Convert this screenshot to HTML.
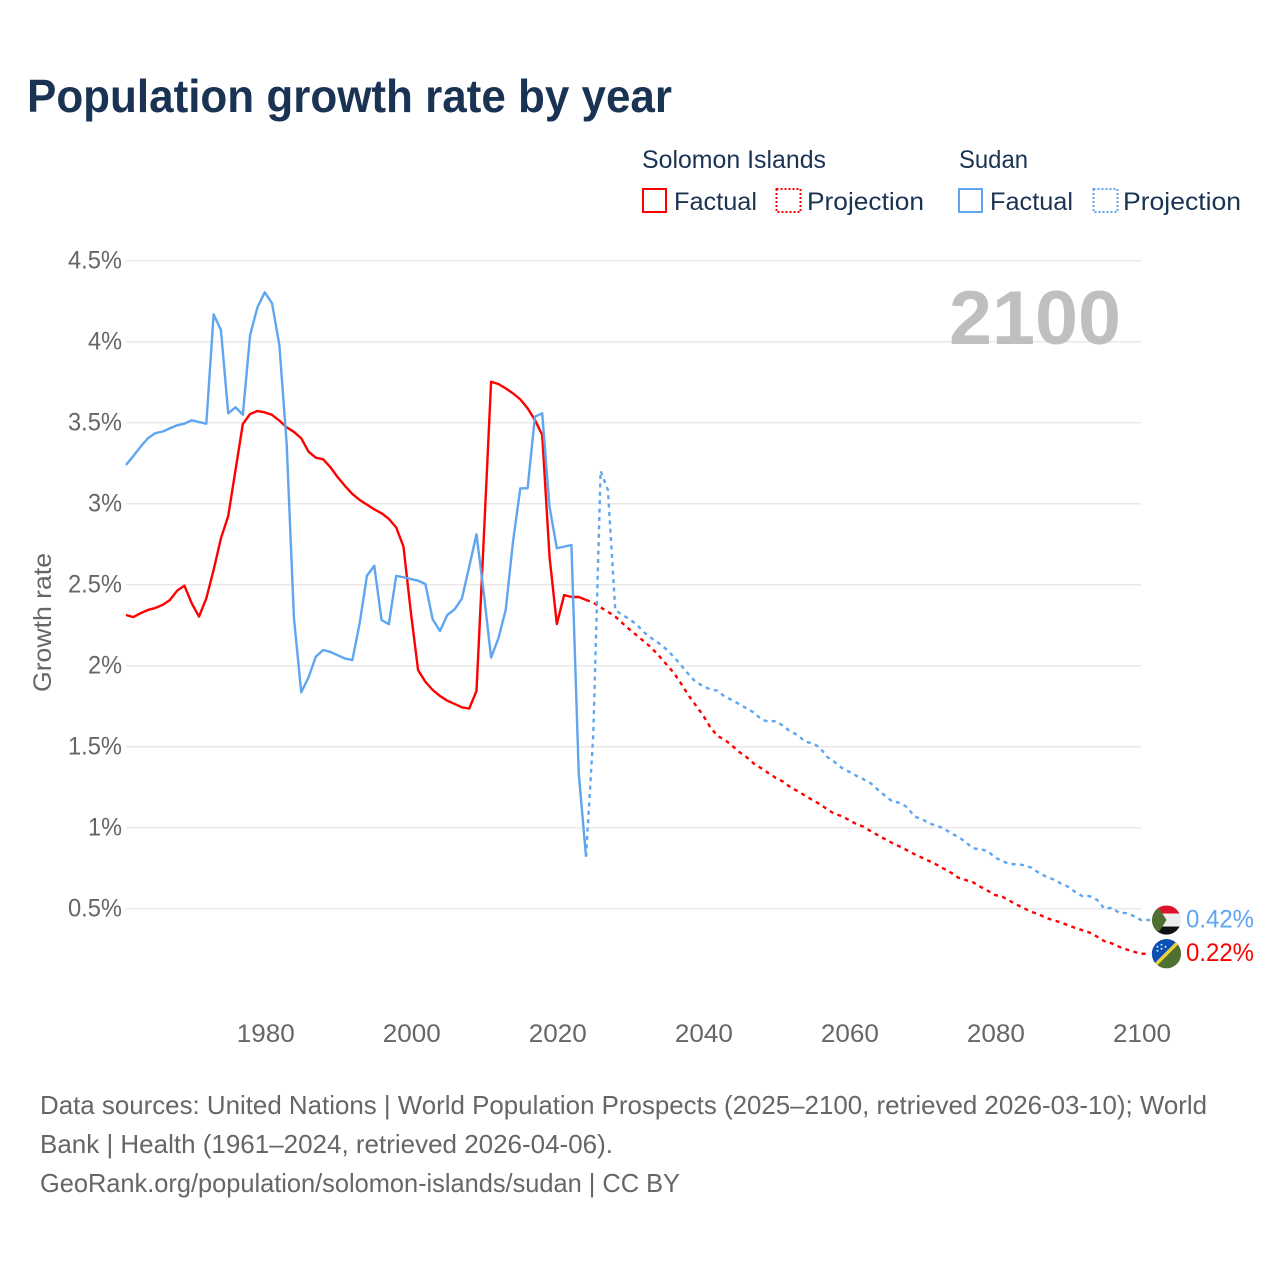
<!DOCTYPE html>
<html lang="en">
<head>
<meta charset="utf-8">
<title>Population growth rate by year</title>
<style>
html,body{margin:0;padding:0;background:#fff;}
svg{display:block;font-family:"Liberation Sans",Arial,sans-serif;}
</style>
</head>
<body>
<svg id="chart" xmlns="http://www.w3.org/2000/svg" width="1280" height="1280" viewBox="0 0 1280 1280">
  <defs>
    <clipPath id="clip-sudan"><circle cx="0" cy="0" r="14.6"/></clipPath>
    <clipPath id="clip-solomon"><circle cx="0" cy="0" r="14.6"/></clipPath>
  </defs>
  <rect x="0" y="0" width="1280" height="1280" fill="#ffffff"/>

  <text x="27" y="112" font-size="46" font-weight="700" fill="#1a3353" textLength="645" lengthAdjust="spacingAndGlyphs">Population growth rate by year</text>

  <g font-size="25" fill="#1a3353">
    <text x="642" y="168" textLength="184" lengthAdjust="spacingAndGlyphs">Solomon Islands</text>
    <text x="959" y="168" textLength="69" lengthAdjust="spacingAndGlyphs">Sudan</text>
    <rect x="643" y="189" width="23" height="23" fill="none" stroke="#ff0000" stroke-width="2"/>
    <text x="674" y="210" textLength="83" lengthAdjust="spacingAndGlyphs">Factual</text>
    <rect x="776.5" y="189" width="24" height="23" fill="none" stroke="#ff0000" stroke-width="2" stroke-dasharray="2 2"/>
    <text x="807" y="210" textLength="117" lengthAdjust="spacingAndGlyphs">Projection</text>
    <rect x="959" y="189" width="23" height="23" fill="none" stroke="#5ea6ef" stroke-width="2"/>
    <text x="990" y="210" textLength="83" lengthAdjust="spacingAndGlyphs">Factual</text>
    <rect x="1093.5" y="189" width="24" height="23" fill="none" stroke="#5ea6ef" stroke-width="2" stroke-dasharray="2 2"/>
    <text x="1123" y="210" textLength="118" lengthAdjust="spacingAndGlyphs">Projection</text>
  </g>

  <g id="grid-layer"></g>
  <g id="y-tick-layer"></g>
  <g id="x-tick-layer"></g>

  <text x="0" y="0" transform="translate(51 692) rotate(-90)" font-size="25" fill="#666666" textLength="139" lengthAdjust="spacingAndGlyphs">Growth rate</text>

  <text x="949" y="344" font-size="76" font-weight="700" fill="#bfbfbf" textLength="172" lengthAdjust="spacingAndGlyphs">2100</text>

  <g id="series-layer"></g>

  <g id="flag-sudan">
    <g clip-path="url(#clip-sudan)">
      <rect x="-15" y="-15" width="30" height="8.5" fill="#d9142b"/>
      <rect x="-15" y="-6.5" width="30" height="13" fill="#eeeeee"/>
      <rect x="-15" y="6.5" width="30" height="8.5" fill="#111111"/>
      <polygon points="-15,-11 -15,11 -7,11 0,0 -7,-11" fill="#4f7030"/>
    </g>
  </g>
  <g id="flag-solomon">
    <g clip-path="url(#clip-solomon)">
      <rect x="-15" y="-15" width="30" height="30" fill="#4f7030"/>
      <polygon points="-15,-15 15,-15 -15,15" fill="#0a50b4"/>
      <line x1="-15" y1="15" x2="15" y2="-15" stroke="#f0d040" stroke-width="3.4"/>
      <g fill="#dfe8f5">
        <circle cx="-9" cy="-7" r="1"/>
        <circle cx="-5" cy="-9" r="1"/>
        <circle cx="-1" cy="-7" r="1"/>
        <circle cx="-9" cy="-3" r="1"/>
        <circle cx="-5" cy="-5" r="1"/>
      </g>
    </g>
  </g>
  <text id="value-sudan" x="1186" font-size="25" fill="#5ea6ef" textLength="68" lengthAdjust="spacingAndGlyphs"></text>
  <text id="value-solomon" x="1186" font-size="25" fill="#ff0000" textLength="68" lengthAdjust="spacingAndGlyphs"></text>

  <g font-size="26" fill="#666666">
    <text x="40" y="1114" textLength="1167" lengthAdjust="spacingAndGlyphs">Data sources: United Nations | World Population Prospects (2025–2100, retrieved 2026-03-10); World</text>
    <text x="40" y="1153" textLength="573" lengthAdjust="spacingAndGlyphs">Bank | Health (1961–2024, retrieved 2026-04-06).</text>
    <text x="40" y="1192" textLength="640" lengthAdjust="spacingAndGlyphs">GeoRank.org/population/solomon-islands/sudan | CC BY</text>
  </g>
</svg>

<script>
const firstFactualYear = 1961;
const firstProjectionYear = 2025;

const yTickValues = [0.5, 1, 1.5, 2, 2.5, 3, 3.5, 4, 4.5];
const yTickLabels = ['0.5%', '1%', '1.5%', '2%', '2.5%', '3%', '3.5%', '4%', '4.5%'];
const xTickYears = [1980, 2000, 2020, 2040, 2060, 2080, 2100];

const solomonFactual = [
  2.313, 2.300, 2.324, 2.344, 2.356, 2.375, 2.405, 2.463, 2.494, 2.385,
  2.303, 2.416, 2.591, 2.786, 2.924, 3.208, 3.492, 3.554, 3.572, 3.564,
  3.548, 3.513, 3.472, 3.443, 3.404, 3.321, 3.284, 3.274, 3.225, 3.163,
  3.109, 3.060, 3.023, 2.994, 2.965, 2.941, 2.906, 2.854, 2.735, 2.334,
  1.973, 1.901, 1.850, 1.813, 1.784, 1.764, 1.743, 1.735, 1.844, 2.790,
  3.753, 3.739, 3.712, 3.681, 3.644, 3.589, 3.517, 3.424, 2.673, 2.257,
  2.436, 2.424, 2.424, 2.406
];
const sudanFactual = [
  3.239, 3.294, 3.352, 3.404, 3.435, 3.445, 3.465, 3.484, 3.494, 3.515,
  3.504, 3.494, 4.169, 4.072, 3.558, 3.595, 3.550, 4.041, 4.212, 4.305,
  4.237, 3.980, 3.373, 2.293, 1.836, 1.928, 2.056, 2.097, 2.085, 2.064,
  2.044, 2.035, 2.262, 2.556, 2.617, 2.282, 2.256, 2.554, 2.546, 2.535,
  2.525, 2.504, 2.286, 2.214, 2.313, 2.348, 2.414, 2.611, 2.811, 2.447,
  2.050, 2.169, 2.344, 2.766, 3.095, 3.095, 3.537, 3.558, 2.982, 2.725,
  2.735, 2.745, 1.336, 0.821
];
const solomonProjection = [
  2.389, 2.360, 2.333, 2.303, 2.262, 2.222, 2.185, 2.148, 2.109, 2.060,
  2.009, 1.957, 1.891, 1.819, 1.757, 1.696, 1.622, 1.566, 1.543, 1.506,
  1.467, 1.435, 1.395, 1.367, 1.336, 1.307, 1.284, 1.249, 1.225, 1.198,
  1.171, 1.146, 1.115, 1.086, 1.072, 1.048, 1.023, 1.006, 0.978, 0.953,
  0.928, 0.904, 0.883, 0.860, 0.836, 0.815, 0.794, 0.772, 0.747, 0.722,
  0.691, 0.677, 0.663, 0.636, 0.611, 0.585, 0.574, 0.549, 0.525, 0.502,
  0.481, 0.465, 0.444, 0.428, 0.416, 0.398, 0.381, 0.367, 0.352, 0.327,
  0.299, 0.286, 0.265, 0.249, 0.235, 0.222
];
const sudanProjection = [
  1.583, 3.202, 3.085, 2.344, 2.313, 2.286, 2.251, 2.204, 2.169, 2.138,
  2.101, 2.056, 2.004, 1.949, 1.901, 1.875, 1.854, 1.846, 1.809, 1.788,
  1.762, 1.737, 1.710, 1.669, 1.654, 1.659, 1.628, 1.593, 1.572, 1.531,
  1.521, 1.496, 1.438, 1.407, 1.370, 1.346, 1.321, 1.299, 1.274, 1.233,
  1.196, 1.160, 1.154, 1.126, 1.068, 1.054, 1.027, 1.012, 0.996, 0.965,
  0.944, 0.910, 0.873, 0.867, 0.856, 0.817, 0.794, 0.776, 0.774, 0.768,
  0.753, 0.722, 0.698, 0.681, 0.657, 0.636, 0.603, 0.577, 0.577, 0.554,
  0.500, 0.506, 0.475, 0.473, 0.455, 0.430
];
const endValueLabels = ['0.42%', '0.22%'];

const SVG_NS = 'http://www.w3.org/2000/svg';
function xScale(year) { return 126 + (year - 1961) * 7.302; }
function yScale(value) { return 989.7 - value * 162; }

const gridLayer = document.getElementById('grid-layer');
const yTickLayer = document.getElementById('y-tick-layer');
const xTickLayer = document.getElementById('x-tick-layer');
const seriesLayer = document.getElementById('series-layer');

yTickValues.forEach(function (value, i) {
  const line = document.createElementNS(SVG_NS, 'line');
  line.setAttribute('x1', 126);
  line.setAttribute('x2', 1141);
  line.setAttribute('y1', yScale(value));
  line.setAttribute('y2', yScale(value));
  line.setAttribute('stroke', '#e9e9e9');
  line.setAttribute('stroke-width', '1.5');
  
  
  gridLayer.appendChild(line);

  const label = document.createElementNS(SVG_NS, 'text');
  label.setAttribute('x', 122);
  label.setAttribute('y', yScale(value) + 8);
  label.setAttribute('text-anchor', 'end');
  label.setAttribute('font-size', '25');
  label.setAttribute('fill', '#666666');
  label.setAttribute('textLength', yTickLabels[i].length > 2 ? 54 : 34);
  label.setAttribute('lengthAdjust', 'spacingAndGlyphs');
  
  
  label.textContent = yTickLabels[i];
  yTickLayer.appendChild(label);
});

xTickYears.forEach(function (year) {
  const label = document.createElementNS(SVG_NS, 'text');
  label.setAttribute('x', xScale(year) + 1);
  label.setAttribute('y', 1042);
  label.setAttribute('text-anchor', 'middle');
  label.setAttribute('font-size', '25');
  label.setAttribute('fill', '#666666');
  label.setAttribute('textLength', 58);
  label.setAttribute('lengthAdjust', 'spacingAndGlyphs');
  
  
  label.textContent = String(year);
  xTickLayer.appendChild(label);
});

function pointsFrom(values, startYear) {
  return values.map(function (value, i) {
    return xScale(startYear + i).toFixed(2) + ',' + yScale(value).toFixed(2);
  });
}

function appendPolyline(points, color, dashed) {
  const line = document.createElementNS(SVG_NS, 'polyline');
  line.setAttribute('points', points.join(' '));
  line.setAttribute('fill', 'none');
  line.setAttribute('stroke', color);
  line.setAttribute('stroke-width', '2.4');
  line.setAttribute('stroke-linejoin', 'round');
  if (dashed) line.setAttribute('stroke-dasharray', '4 4.4');
  seriesLayer.appendChild(line);
  return line;
}

const endYear = firstProjectionYear + solomonProjection.length - 1;

const solomonFactualLine = appendPolyline(pointsFrom(solomonFactual, firstFactualYear), '#ff0000', false);



const solomonProjectionPoints = pointsFrom(solomonFactual.slice(-1).concat(solomonProjection), firstProjectionYear - 1);
const solomonEndY = yScale(solomonProjection[solomonProjection.length - 1]);
solomonProjectionPoints.push((xScale(endYear) + 9) + ',' + solomonEndY);
const solomonProjectionLine = appendPolyline(solomonProjectionPoints, '#ff0000', true);



const sudanFactualLine = appendPolyline(pointsFrom(sudanFactual, firstFactualYear), '#5ea6ef', false);



const sudanProjectionPoints = pointsFrom(sudanFactual.slice(-1).concat(sudanProjection), firstProjectionYear - 1);
const sudanEndY = yScale(sudanProjection[sudanProjection.length - 1]);
sudanProjectionPoints.push((xScale(endYear) + 9) + ',' + sudanEndY);
const sudanProjectionLine = appendPolyline(sudanProjectionPoints, '#5ea6ef', true);



document.getElementById('flag-sudan').setAttribute('transform', 'translate(1166.5 ' + sudanEndY + ')');
document.getElementById('flag-solomon').setAttribute('transform', 'translate(1166.5 ' + solomonEndY + ')');

const sudanValue = document.getElementById('value-sudan');
sudanValue.setAttribute('y', sudanEndY + 7.5);
sudanValue.textContent = endValueLabels[0];

const solomonValue = document.getElementById('value-solomon');
solomonValue.setAttribute('y', solomonEndY + 7.5);
solomonValue.textContent = endValueLabels[1];
</script>
</body>
</html>
